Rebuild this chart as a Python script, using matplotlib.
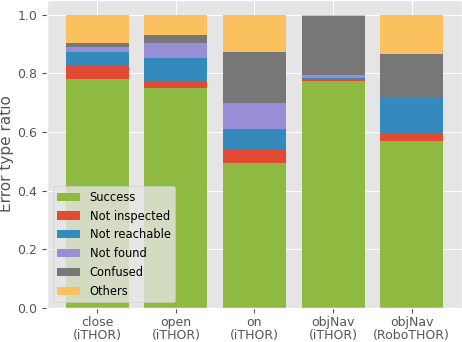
import matplotlib
matplotlib.use("Agg")
import matplotlib.pyplot as plt
import numpy as np

plt.style.use("ggplot")

tasks = ["close\n(iTHOR)", "open\n(iTHOR)", "on\n(iTHOR)", "objNav\n(iTHOR)", "objNav\n(RoboTHOR)"]
success = [0.780, 0.750, 0.495, 0.775, 0.570]
not_inspected = [0.050, 0.020, 0.042, 0.003, 0.023]
not_reachable = [0.042, 0.082, 0.073, 0.006, 0.123]
not_found = [0.017, 0.051, 0.089, 0.010, 0.000]
confused = [0.014, 0.028, 0.173, 0.200, 0.149]
others = [0.097, 0.069, 0.128, 0.006, 0.135]

series = [
    ("Success", success, "#8EBA42"),
    ("Not inspected", not_inspected, "#E24A33"),
    ("Not reachable", not_reachable, "#348ABD"),
    ("Not found", not_found, "#988ED5"),
    ("Confused", confused, "#777777"),
    ("Others", others, "#FBC15E"),
]

fig, ax = plt.subplots(figsize=(4.62, 3.42), dpi=100)
fig.subplots_adjust(left=47 / 462, right=1.0, top=1.0, bottom=1 - 308 / 342)

x = np.arange(len(tasks))
bottom = np.zeros(len(tasks))
for name, vals, color in series:
    ax.bar(x, vals, 0.8, bottom=bottom, label=name, color=color)
    bottom += np.array(vals)

ax.set_xticks(x)
ax.set_xticklabels(tasks, fontsize=9, linespacing=1.0)
ax.tick_params(axis="x", pad=2)
ax.tick_params(axis="y", labelsize=9)
ax.set_ylabel("Error type ratio", fontsize=11, labelpad=2)
ax.legend(loc="lower left", fontsize=8.3)

fig.savefig("out.png", dpi=100)
